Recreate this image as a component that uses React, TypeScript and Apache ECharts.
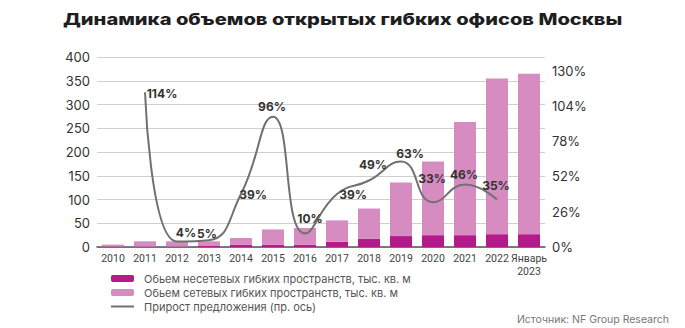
import React, { useEffect, useRef } from "react";
import * as echarts from "echarts";

const categories = ["2010", "2011", "2012", "2013", "2014", "2015", "2016", "2017", "2018", "2019", "2020", "2021", "2022", "Январь\n2023"];
const nonNetworkVolume = [1, 1, 1, 2, 5, 5, 5, 11, 17, 23, 25, 25, 27, 27];
const networkVolume = [4, 11, 11, 10, 14, 32, 35, 45, 64, 113, 155, 238, 328, 338];
const supplyGrowth: (number | null)[] = [null, 114, 4, 5, 39, 96, 10, 39, 49, 63, 33, 46, 35, null];
const leftTicks = { min: 0, max: 400, interval: 50 };
const rightTicks = { min: 0, max: 140, interval: 26 };

const titleText = "Динамика объемов открытых гибких офисов Москвы";
const sourceText = "Источник: NF Group Research";
const seriesNames = [
  "Обьем несетевых гибких пространств, тыс. кв. м",
  "Обьем сетевых гибких пространств, тыс. кв. м",
  "Прирост предложения (пр. ось)",
];

// label centre placement relative to each line point (style only)
const labelShift: [number, number][] = [
  [0, 0], [17, 1], [9, -9], [-2, -7], [12, 0], [-1, -10], [5, -15], [16, 0], [4, -16], [9, -8], [-1, -24], [-1, -10], [-1, -14], [0, 0],
];

const FONT = "Inter, 'Noto Sans', sans-serif";
const TITLE_FONT_SIZE = 16;
const TITLE_WIDTH = 560;
const SYMBOL = 2;

function measure(text: string, font: string): number {
  try {
    const c = document.createElement("canvas").getContext("2d");
    if (!c) return TITLE_WIDTH;
    c.font = font;
    return c.measureText(text).width || TITLE_WIDTH;
  } catch {
    return TITLE_WIDTH;
  }
}

export default function App() {
  const ref = useRef<HTMLDivElement>(null);
  useEffect(() => {
    if (!ref.current) return;
    const chart = echarts.init(ref.current, null, { renderer: "svg" });
    const titleNatural = measure(titleText, `800 ${TITLE_FONT_SIZE}px Inter`);
    const titleScale = TITLE_WIDTH / titleNatural;
    chart.setOption({
      animation: false,
      backgroundColor: "#ffffff",
      textStyle: { fontFamily: FONT },
      grid: { left: 97, right: 140, top: 57, bottom: 81, containLabel: false },
      legend: {
        orient: "vertical",
        left: 110,
        top: 273,
        padding: 0,
        itemWidth: 23,
        itemHeight: 7,
        itemGap: 3,
        textStyle: { fontSize: 11, color: "#555", fontFamily: FONT, padding: [0, 0, 0, 5] },
        data: seriesNames,
      },
      xAxis: {
        type: "category",
        data: categories,
        axisTick: { show: false },
        axisLine: { lineStyle: { color: "#555", width: 1.5 } },
        axisLabel: { interval: 0, fontSize: 10.5, color: "#444", margin: 5, lineHeight: 13, fontFamily: "Roboto, sans-serif" },
      },
      yAxis: [
        {
          type: "value",
          min: leftTicks.min,
          max: leftTicks.max,
          interval: leftTicks.interval,
          axisLabel: { fontSize: 13, color: "#333", margin: 7, fontFamily: FONT },
          splitLine: { lineStyle: { color: "#cfcfcf", width: 1 } },
          axisLine: { show: false },
          axisTick: { show: false },
        },
        {
          type: "value",
          min: rightTicks.min,
          max: rightTicks.max,
          interval: rightTicks.interval,
          axisLabel: { fontSize: 13, color: "#333", margin: 7, formatter: "{value}%", showMaxLabel: false, fontFamily: FONT },
          splitLine: { show: false },
          axisLine: { show: false },
          axisTick: { show: false },
        },
      ],
      series: [
        {
          name: seriesNames[0],
          type: "bar",
          stack: "v",
          barWidth: 22,
          itemStyle: { color: "#b5198a" },
          data: nonNetworkVolume,
        },
        {
          name: seriesNames[1],
          type: "bar",
          stack: "v",
          barWidth: 22,
          itemStyle: { color: "#d68cc1" },
          data: networkVolume,
        },
        {
          name: seriesNames[2],
          type: "line",
          yAxisIndex: 1,
          smooth: 0.5,
          symbol: "circle",
          symbolSize: SYMBOL,
          showSymbol: true,
          itemStyle: { color: "rgba(112,112,112,0)", borderWidth: 0 },
          color: "#707070",
          lineStyle: { color: "#707070", width: 2 },
          label: {
            show: true,
            formatter: "{c}%",
            fontSize: 12,
            fontWeight: 700,
            color: "#333",
            fontFamily: FONT,
            align: "center",
            verticalAlign: "middle",
          },
          labelLayout: { hideOverlap: false },
          data: supplyGrowth.map((v, i) =>
            v === null
              ? null
              : {
                  value: v,
                  label: {
                    position: [SYMBOL / 2 + labelShift[i][0], SYMBOL / 2 + labelShift[i][1]],
                    align: "center",
                    verticalAlign: "middle",
                  },
                }
          ),
        },
      ],
      graphic: [
        {
          type: "text",
          x: 63,
          y: 11,
          scaleX: titleScale,
          style: {
            text: titleText,
            font: `800 ${TITLE_FONT_SIZE}px Inter`,
            fill: "#1e1e1e",
          },
        },
        {
          type: "text",
          right: 16,
          top: 314,
          style: { text: sourceText, fontSize: 10.5, fill: "#777", fontFamily: FONT },
        },
      ],
    });
    return () => chart.dispose();
  }, []);
  return <div ref={ref} style={{ position: "fixed", left: 0, top: 0, width: 685, height: 328 }} />;
}
